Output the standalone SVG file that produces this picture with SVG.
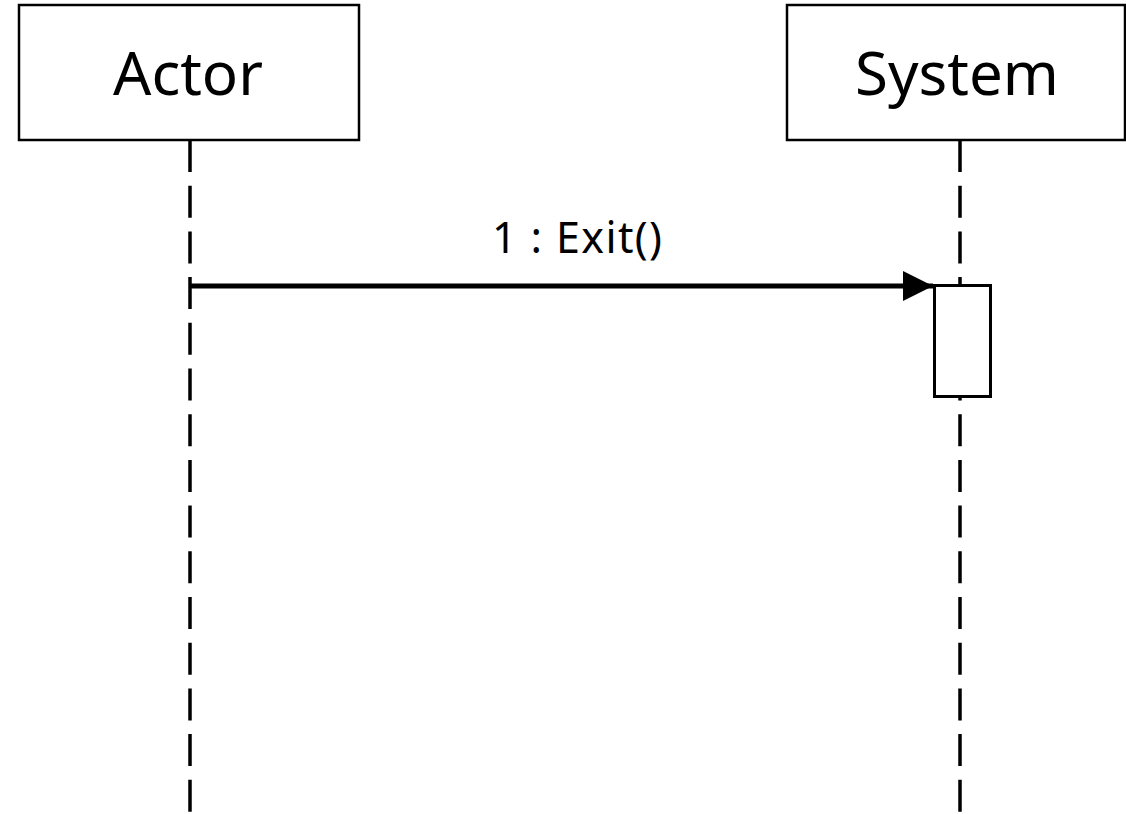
<svg xmlns="http://www.w3.org/2000/svg" width="1126" height="814" viewBox="0 0 1126 814">
<style>
.box{fill:#fff;stroke:#000;stroke-width:2.5}
.life{stroke:#000;stroke-width:3.5;stroke-dasharray:32 13.7;fill:none}
.t{font-family:"Noto Sans","Open Sans",sans-serif;fill:#000;text-anchor:middle}
</style>
<defs>
<marker id="arr" markerUnits="userSpaceOnUse" markerWidth="32" markerHeight="32" refX="30" refY="15" orient="auto">
<path d="M0,0 L30,15 L0,30 Z" fill="#000"/>
</marker>
</defs>
<rect width="1126" height="814" fill="#fff"/>
<g id="connectors">
<line class="life" x1="190" y1="140" x2="190" y2="814"/>
<line class="life" x1="960" y1="140" x2="960" y2="814"/>
<line x1="190" y1="286" x2="933" y2="286" stroke="#000" stroke-width="5" marker-end="url(#arr)"/>
<text x="492" y="253" font-size="43" font-family="Noto Sans, Open Sans, sans-serif" textLength="170" lengthAdjust="spacing">1 : Exit()</text>
</g>
<g id="actor">
<rect class="box" x="19" y="5" width="340" height="135"/>
<text class="t" x="188" y="95" font-size="60">Actor</text>
</g>
<g id="system">
<rect class="box" x="787" y="5" width="338" height="135"/>
<text class="t" x="957" y="95" font-size="60">System</text>
</g>
<g id="activation">
<rect x="934.5" y="285.5" width="56" height="111" fill="#fff" stroke="#000" stroke-width="3"/>
</g>
</svg>
